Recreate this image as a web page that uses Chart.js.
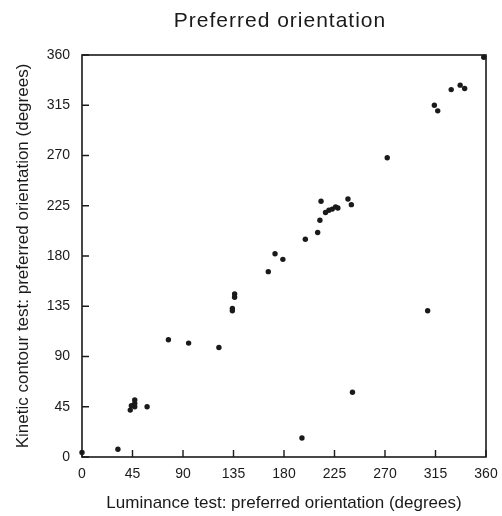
<!DOCTYPE html>
<html>
<head>
<meta charset="utf-8">
<script src="https://cdn.jsdelivr.net/npm/chart.js@4/dist/chart.umd.min.js"></script>
<style>
html,body{margin:0;padding:0;background:#fff;}
#wrap{width:502px;height:516px;}
</style>
</head>
<body>
<div id="wrap"><canvas id="c" width="502" height="516"></canvas></div>
<script>
const chartTitle = "Preferred orientation";
const xTitle = "Luminance test: preferred orientation (degrees)";
const yTitle = "Kinetic contour test: preferred orientation (degrees)";
const tickValues = [0, 45, 90, 135, 180, 225, 270, 315, 360];
const luminance = [0, 32, 43, 44, 47, 47, 47, 58, 77, 95, 122, 134, 134, 136, 136, 166, 172, 179, 196, 199, 210, 212, 213, 217, 220, 223, 226, 228, 237, 240, 241, 272, 308, 314, 317, 329, 337, 341, 358];
const kinetic = [4, 7, 42, 46, 45, 48, 51, 45, 105, 102, 98, 131, 133, 143, 146, 166, 182, 177, 17, 195, 201, 212, 229, 219, 221, 222, 224, 223, 231, 226, 58, 268, 131, 315, 310, 329, 333, 330, 358];

const points = luminance.map((x, i) => ({x: x, y: kinetic[i]}));
const FONT = "'Liberation Sans', Arial, Helvetica, sans-serif";
const INK = '#1a1a1a';

const framePlugin = {
  id: 'frame',
  afterDraw(chart) {
    const {ctx, chartArea: a, scales} = chart;
    ctx.save();
    ctx.strokeStyle = INK;
    ctx.lineWidth = 1.6;
    ctx.strokeRect(a.left, a.top, a.right - a.left, a.bottom - a.top);
    ctx.lineWidth = 1.4;
    ctx.beginPath();
    tickValues.forEach(v => {
      const px = scales.x.getPixelForValue(v);
      ctx.moveTo(px, a.bottom);
      ctx.lineTo(px, a.bottom - 7);
      const py = scales.y.getPixelForValue(v);
      ctx.moveTo(a.left, py);
      ctx.lineTo(a.left + 7, py);
    });
    ctx.stroke();
    ctx.fillStyle = INK;
    ctx.font = '21px ' + FONT;
    if ('letterSpacing' in ctx) ctx.letterSpacing = '1px';
    ctx.textAlign = 'center';
    ctx.textBaseline = 'middle';
    ctx.fillText(chartTitle, (a.left + a.right) / 2 - 4, 21);
    ctx.restore();
  }
};

new Chart(document.getElementById('c'), {
  type: 'scatter',
  data: {
    datasets: [{
      data: points,
      backgroundColor: INK,
      borderColor: INK,
      borderWidth: 0,
      pointRadius: 2.7,
      pointHoverRadius: 2.7,
      clip: false
    }]
  },
  options: {
    responsive: false,
    animation: false,
    devicePixelRatio: 1,
    layout: {padding: {top: 55, right: 16, bottom: 0, left: 0}},
    plugins: {legend: {display: false}, tooltip: {enabled: false}, title: {display: false}},
    scales: {
      x: {
        type: 'linear', min: 0, max: 360,
        afterBuildTicks(scale) { scale.ticks = tickValues.map(v => ({value: v})); },
        afterFit(scale) { scale.height = 59; },
        grid: {display: false, drawTicks: false},
        border: {display: false},
        ticks: {color: INK, font: {family: FONT, size: 14, lineHeight: '26px'}, padding: 4, maxRotation: 0, autoSkip: false},
        title: {display: true, text: xTitle, color: INK, font: {family: FONT, size: 17}, padding: {top: 8, bottom: 2}}
      },
      y: {
        type: 'linear', min: 0, max: 360,
        afterBuildTicks(scale) { scale.ticks = tickValues.map(v => ({value: v})); },
        afterFit(scale) { scale.width = 82; },
        grid: {display: false, drawTicks: false},
        border: {display: false},
        ticks: {color: INK, font: {family: FONT, size: 14}, padding: 12, autoSkip: false},
        title: {display: true, text: yTitle, color: INK, font: {family: FONT, size: 17}, padding: {top: 13, bottom: 0}}
      }
    }
  },
  plugins: [framePlugin]
});
</script>
</body>
</html>
